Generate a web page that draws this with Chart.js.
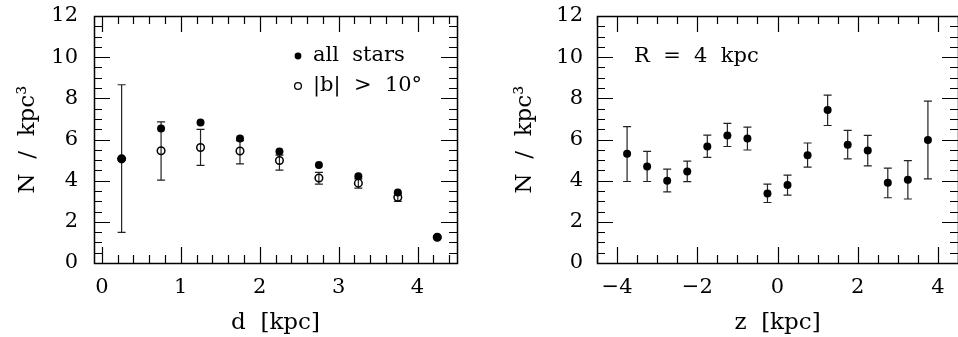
<!DOCTYPE html>
<html><head><meta charset="utf-8">
<script src="https://cdn.jsdelivr.net/npm/chart.js@4.4.1/dist/chart.umd.min.js"></script>
<style>
html,body{margin:0;padding:0;background:#fff;overflow:hidden;width:958px;height:337px;}
canvas{position:absolute;top:0;}
#c1{left:0;}
#c2{left:480px;}
</style></head><body>
<canvas id="c1" width="480" height="337"></canvas>
<canvas id="c2" width="482" height="337"></canvas>
<script>
// ---- data: left panel (density vs distance d) ----
const dKpc        = [0.25, 0.75, 1.25, 1.75, 2.25, 2.75, 3.25, 3.75, 4.25];
const allStars    = [5.06, 6.54, 6.83, 6.05, 5.42, 4.76, 4.21, 3.43, 1.25];
const highLat     = [5.06, 5.45, 5.61, 5.44, 4.98, 4.13, 3.88, 3.19, 1.25];
const highLatLow  = [1.49, 4.03, 4.74, 4.82, 4.51, 3.83, 3.64, 2.99, 1.20];
const highLatHigh = [8.66, 6.86, 6.49, 5.95, 5.24, 4.40, 4.09, 3.37, 1.30];
const dTicks = [0, 1, 2, 3, 4];

// ---- data: right panel (density vs height z at R = 4 kpc) ----
const zKpc   = [-3.75, -3.25, -2.75, -2.25, -1.75, -1.25, -0.75, -0.25, 0.25, 0.75, 1.25, 1.75, 2.25, 2.75, 3.25, 3.75];
const r4     = [5.31, 4.69, 4.00, 4.45, 5.66, 6.20, 6.05, 3.38, 3.79, 5.24, 7.43, 5.74, 5.47, 3.90, 4.05, 5.97];
const r4Low  = [3.96, 3.96, 3.46, 3.95, 5.13, 5.66, 5.49, 2.94, 3.30, 4.66, 6.68, 5.06, 4.72, 3.17, 3.11, 4.09];
const r4High = [6.63, 5.42, 4.56, 4.95, 6.21, 6.78, 6.60, 3.83, 4.27, 5.83, 8.16, 6.44, 6.20, 4.61, 4.97, 7.86];
const zTicks = [-4, -2, 0, 2, 4];

const nTicks = [0, 2, 4, 6, 8, 10, 12];
const yTitle = 'N  /  kpc\u00B3';
const legendAll = 'all  stars';
const legendHigh = '|b|  >  10\u00B0';
const panelNote = 'R  =  4  kpc';

const FONT = "'DejaVu Serif', serif";

const xy = (xs, ys) => xs.map((x, i) => ({x, y: ys[i]}));

// error bars plugin
const errorBars = {
  id: 'errorBars',
  beforeDatasetsDraw(chart, args, opts) {
    const {ctx, scales: {x, y}} = chart;
    ctx.save();
    ctx.strokeStyle = '#222';
    ctx.lineWidth = 1.2;
    opts.xs.forEach((xv, i) => {
      const px = x.getPixelForValue(xv);
      const lo = y.getPixelForValue(opts.lo[i]);
      const hi = y.getPixelForValue(opts.hi[i]);
      ctx.beginPath();
      ctx.moveTo(px, lo); ctx.lineTo(px, hi);
      ctx.moveTo(px - 4, lo); ctx.lineTo(px + 4, lo);
      ctx.moveTo(px - 4, hi); ctx.lineTo(px + 4, hi);
      ctx.stroke();
    });
    ctx.restore();
  }
};

// frame with inward ticks on all four sides
const frameTicks = {
  id: 'frameTicks',
  afterDatasetsDraw(chart, args, opts) {
    const {ctx, chartArea: a, scales: {x, y}} = chart;
    const MAJ = 16, MIN = 8;
    ctx.save();
    ctx.strokeStyle = '#000';
    ctx.lineWidth = 1.2;
    ctx.beginPath();
    const near = (v, arr) => arr.some(t => Math.abs(t - v) < 1e-6);
    const xMaj = x.ticks.map(t => t.value);
    const yMaj = y.ticks.map(t => t.value);
    for (let v = Math.ceil(x.min / opts.xStep - 1e-9) * opts.xStep; v <= x.max + 1e-9; v += opts.xStep) {
      const vv = Math.round(v * 1000) / 1000;
      const len = near(vv, xMaj) ? MAJ : MIN;
      const p = Math.round(x.getPixelForValue(vv)) + 0.5;
      ctx.moveTo(p, a.bottom); ctx.lineTo(p, a.bottom - len);
      ctx.moveTo(p, a.top); ctx.lineTo(p, a.top + len);
    }
    for (let v = Math.ceil(y.min / opts.yStep - 1e-9) * opts.yStep; v <= y.max + 1e-9; v += opts.yStep) {
      const vv = Math.round(v * 1000) / 1000;
      const len = near(vv, yMaj) ? MAJ : MIN;
      const p = Math.round(y.getPixelForValue(vv)) + 0.5;
      ctx.moveTo(a.left, p); ctx.lineTo(a.left + len, p);
      ctx.moveTo(a.right, p); ctx.lineTo(a.right - len, p);
    }
    ctx.stroke();
    ctx.lineWidth = 1.5;
    ctx.strokeRect(Math.round(a.left) + 0.5, Math.round(a.top) + 0.5, Math.round(a.right - a.left), Math.round(a.bottom - a.top));
    ctx.restore();
  }
};

// in-panel text (legend / note)
const panelText = {
  id: 'panelText',
  afterDraw(chart, args, opts) {
    const {ctx, chartArea: a} = chart;
    ctx.save();
    ctx.fillStyle = '#000';
    ctx.strokeStyle = '#000';
    ctx.font = '21px ' + FONT;
    ctx.textBaseline = 'middle';
    ctx.textAlign = 'left';
    (opts.items || []).forEach(it => {
      if (it.marker === 'filled') {
        ctx.beginPath(); ctx.arc(a.left + it.mx, a.top + it.dy, 3.4, 0, Math.PI * 2); ctx.fill();
      } else if (it.marker === 'open') {
        ctx.lineWidth = 1.3;
        ctx.beginPath(); ctx.arc(a.left + it.mx, a.top + it.dy, 3.4, 0, Math.PI * 2); ctx.stroke();
      }
      ctx.fillText(it.text, a.left + it.dx, a.top + it.dy);
    });
    ctx.restore();
  }
};

const minusFmt = v => String(v).replace('-', '\u2212');

function scales(xMin, xMax, xTickVals, xTitle, yWidth, yPad, yTitlePad) {
  return {
    x: {
      type: 'linear', min: xMin, max: xMax,
      afterBuildTicks: s => { s.ticks = xTickVals.map(v => ({value: v})); },
      afterFit: s => { s.height = 74; s.paddingLeft = 0; s.paddingRight = 0; },
      grid: {display: false, drawTicks: false},
      border: {display: false},
      ticks: {color: '#000', font: {family: FONT, size: 21}, padding: 12, maxRotation: 0, autoSkip: false, callback: minusFmt},
      title: {display: true, text: xTitle, color: '#000', font: {family: FONT, size: 23}, padding: {top: 0, bottom: 0}}
    },
    y: {
      type: 'linear', min: 0, max: 12,
      afterBuildTicks: s => { s.ticks = nTicks.map(v => ({value: v})); },
      afterFit: s => { s.width = yWidth; s.paddingTop = 0; s.paddingBottom = 0; },
      grid: {display: false, drawTicks: false},
      border: {display: false},
      ticks: {color: '#000', font: {family: FONT, size: 21}, padding: yPad},
      title: {display: true, text: yTitle, color: '#000', font: {family: FONT, size: 23}, padding: {top: yTitlePad, bottom: 0}}
    }
  };
}

const common = {
  responsive: false, animation: false, devicePixelRatio: 1,
  events: [],
};

new Chart(document.getElementById('c1'), {
  type: 'scatter',
  data: {datasets: [
    {label: 'all stars', data: xy(dKpc, allStars), pointRadius: 4, pointBackgroundColor: '#000', pointBorderWidth: 0, showLine: false},
    {label: '|b| > 10°', data: xy(dKpc, highLat), pointRadius: 3.8, pointBackgroundColor: 'rgba(0,0,0,0)', pointBorderColor: '#000', pointBorderWidth: 1.5, showLine: false}
  ]},
  options: Object.assign({}, common, {
    layout: {padding: {top: 16, right: 23, left: 0, bottom: 0}},
    scales: scales(-0.1, 4.5, dTicks, 'd  [kpc]', 94, 16, 14),
    plugins: {
      legend: {display: false}, tooltip: {enabled: false},
      errorBars: {xs: dKpc, lo: highLatLow, hi: highLatHigh},
      frameTicks: {xStep: 0.2, yStep: 0.5},
      panelText: {items: [
        {marker: 'filled', mx: 204, dx: 219, dy: 40, text: legendAll},
        {marker: 'open', mx: 204, dx: 219, dy: 70, text: legendHigh}
      ]}
    }
  }),
  plugins: [errorBars, frameTicks, panelText]
});

new Chart(document.getElementById('c2'), {
  type: 'scatter',
  data: {datasets: [
    {label: 'R = 4 kpc', data: xy(zKpc, r4), pointRadius: 4, pointBackgroundColor: '#000', pointBorderWidth: 0, showLine: false}
  ]},
  options: Object.assign({}, common, {
    layout: {padding: {top: 16, right: 2, left: 0, bottom: 0}},
    scales: scales(-4.5, 4.5, zTicks, 'z  [kpc]', 117, 14, 31),
    plugins: {
      legend: {display: false}, tooltip: {enabled: false},
      errorBars: {xs: zKpc, lo: r4Low, hi: r4High},
      frameTicks: {xStep: 0.5, yStep: 0.5},
      panelText: {items: [
        {marker: null, dx: 37, dy: 41, text: panelNote}
      ]}
    }
  }),
  plugins: [errorBars, frameTicks, panelText]
});
</script>
</body></html>
